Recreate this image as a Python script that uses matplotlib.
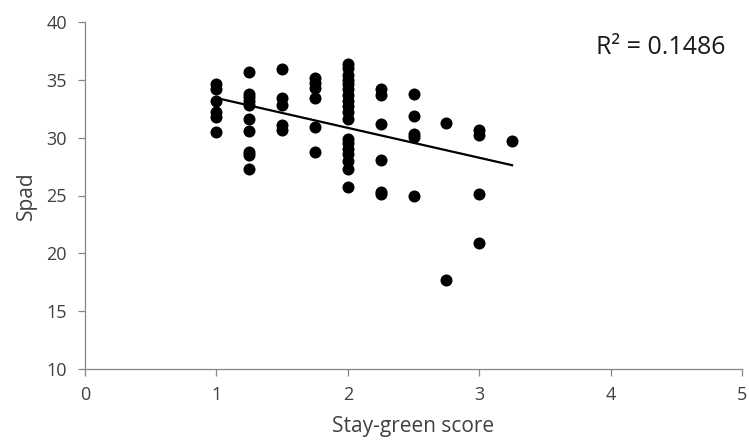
import matplotlib.pyplot as plt
import numpy as np

plt.rcParams['font.family'] = ['Open Sans', 'DejaVu Sans']

# stay-green score per plot, and the matching SPAD readings
score = ([1.0] * 6 + [1.25] * 10 + [1.5] * 5 + [1.75] * 6 + [2.0] * 18
         + [2.25] * 6 + [2.5] * 5 + [2.75] * 2 + [3.0] * 4 + [3.25] * 1)
spad = [
    34.6, 34.2, 33.2, 32.2, 31.8, 30.5,
    35.7, 33.8, 33.5, 33.2, 32.8, 31.6, 30.6, 28.8, 28.5, 27.3,
    35.9, 33.4, 32.8, 31.1, 30.7,
    35.2, 34.7, 34.3, 33.4, 30.9, 28.8,
    36.4, 36.0, 35.4, 35.0, 34.6, 34.2, 33.7, 33.2, 32.7, 32.2, 31.6,
    29.9, 29.5, 29.0, 28.6, 28.0, 27.3, 25.7,
    34.2, 33.7, 31.2, 28.1, 25.3, 25.1,
    33.8, 31.9, 30.3, 30.1, 25.0,
    31.3, 17.7,
    30.7, 30.2, 25.1, 20.9,
    29.7,
]
r2_label = "R² = 0.1486"

score = np.array(score)
spad = np.array(spad)

fig = plt.figure(figsize=(7.49, 4.45), dpi=100)
ax = fig.add_axes([85 / 749, 76 / 445, 657 / 749, 347 / 445])

ax.scatter(score, spad, s=75, color='black', zorder=3, linewidths=0)

# linear trend over the range of the data
slope, intercept = np.polyfit(score, spad, 1)
xs = np.array([score.min(), score.max()])
ax.plot(xs, slope * xs + intercept, color='black', linewidth=1.6, zorder=2)

ax.set_xlim(0, 5)
ax.set_ylim(10, 40)
ax.set_xticks(range(0, 6))
ax.set_yticks(range(10, 41, 5))

for side in ['top', 'right']:
    ax.spines[side].set_visible(False)
for side in ['left', 'bottom']:
    ax.spines[side].set_color('#868686')
    ax.spines[side].set_linewidth(0.9)
ax.tick_params(direction='out', length=5, width=0.9, color='#868686',
               labelsize=13, labelcolor='#404040')
ax.tick_params(axis='y', pad=8)
ax.tick_params(axis='x', pad=7)

ax.set_xlabel("Stay-green score", fontsize=15, color='#404040', labelpad=9)
ax.set_ylabel("Spad", fontsize=15, color='#404040', labelpad=7)

fig.text(661 / 749, 1 - 47 / 445, r2_label, fontsize=18, color='#1a1a1a',
         ha='center', va='center')

fig.savefig("out.png", dpi=100)
